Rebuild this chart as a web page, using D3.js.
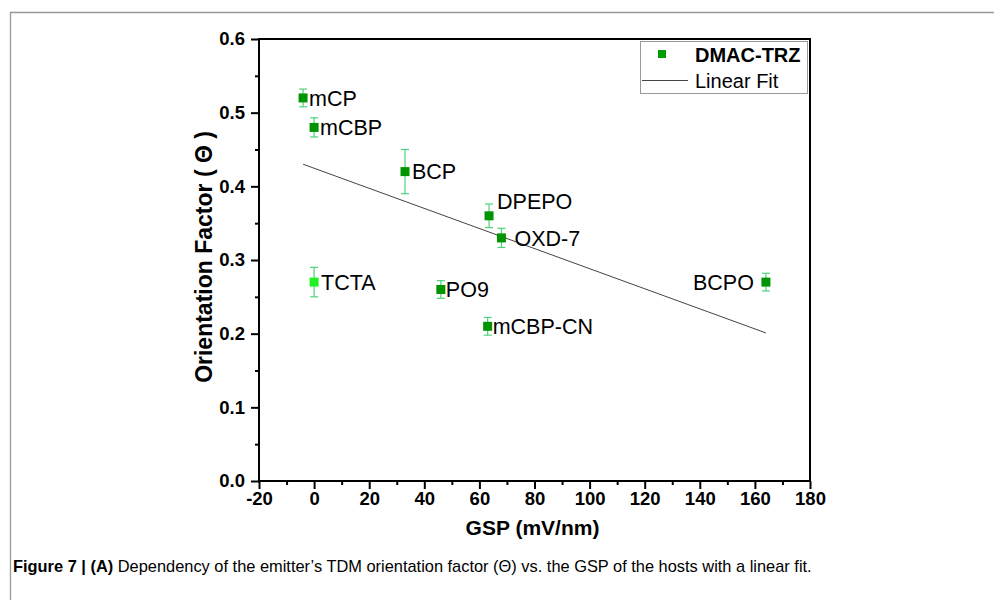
<!doctype html>
<html lang="en">
<head>
<meta charset="UTF-8">
<title>Orientation factor vs GSP</title>
<style>
  body { margin: 0; background: #fff; }
  svg { display: block; font-family: "Liberation Sans", Arial, sans-serif; }
  .tick text { font-family: "Liberation Sans", Arial, sans-serif; font-weight: bold; font-size: 18.5px; fill: #000; }
  .host-label { font-size: 21.5px; fill: #000; }
</style>
</head>
<body>
<svg id="chart" width="994" height="600"></svg>
<script src="https://d3js.org/d3.v7.min.js"></script>
<script>
// data
var hosts    = ["mCP", "mCBP", "BCP", "DPEPO", "OXD-7", "TCTA", "PO9", "mCBP-CN", "BCPO"];
var gsp      = [-4, 0, 33, 63.5, 68, 0, 46, 63, 164];
var theta    = [0.52, 0.48, 0.42, 0.36, 0.33, 0.27, 0.26, 0.21, 0.27];
var thetaErr = [0.012, 0.013, 0.03, 0.016, 0.013, 0.02, 0.012, 0.012, 0.012];
var excluded = ["TCTA"];          // drawn in the lighter green
var fitGsp   = [-4, 164];         // ends of the linear fit line
var fitTheta = [0.43, 0.201];
var xTicks   = [-20, 0, 20, 40, 60, 80, 100, 120, 140, 160, 180];
var yTicks   = [0.0, 0.1, 0.2, 0.3, 0.4, 0.5, 0.6];

// label placement next to each point (layout only)
var labelPos = {
  "mCP":     {dx: 6,   dy: 0,   anchor: "start"},
  "mCBP":    {dx: 6,   dy: 0,   anchor: "start"},
  "BCP":     {dx: 7,   dy: 0,   anchor: "start"},
  "DPEPO":   {dx: 8,   dy: -15, anchor: "start"},
  "OXD-7":   {dx: 13,  dy: 0,   anchor: "start"},
  "TCTA":    {dx: 7,   dy: 0,   anchor: "start"},
  "PO9":     {dx: 5,   dy: 0,   anchor: "start"},
  "mCBP-CN": {dx: 5,   dy: 0,   anchor: "start"},
  "BCPO":    {dx: -12, dy: 0,   anchor: "end"}
};

var svg = d3.select("#chart");

// outer figure frame (top and left edges visible)
svg.append("path")
  .attr("d", "M10.5,600 V12.5 H994")
  .attr("fill", "none")
  .attr("stroke", "#999")
  .attr("stroke-width", 1.3);

var pLeft = 259, pRight = 810, pTop = 39, pBottom = 481;

var x = d3.scaleLinear().domain([-20, 180]).range([pLeft, pRight]);
var y = d3.scaleLinear().domain([0, 0.6]).range([pBottom, pTop]);

// minor ticks
svg.append("g")
  .attr("transform", "translate(0," + pBottom + ")")
  .call(d3.axisBottom(x).tickValues(d3.range(-10, 180, 20)).tickSize(4).tickFormat(""))
  .call(function(g) { g.select(".domain").remove(); });
svg.append("g")
  .attr("transform", "translate(" + pLeft + ",0)")
  .call(d3.axisLeft(y).tickValues(d3.range(0.05, 0.6, 0.1)).tickSize(4).tickFormat(""))
  .call(function(g) { g.select(".domain").remove(); });

// major ticks + labels (plain hyphen for negatives, like the original)
var xAxis = svg.append("g")
  .attr("transform", "translate(0," + pBottom + ")")
  .call(d3.axisBottom(x).tickValues(xTicks).tickSize(8).tickPadding(3)
    .tickFormat(function(d) { return String(d); }));
xAxis.select(".domain").remove();

var yAxis = svg.append("g")
  .attr("transform", "translate(" + pLeft + ",0)")
  .call(d3.axisLeft(y).tickValues(yTicks).tickSize(8).tickPadding(6)
    .tickFormat(function(d) { return d.toFixed(1); }));
yAxis.select(".domain").remove();

svg.selectAll(".tick line").attr("stroke", "#000").attr("stroke-width", 2);

// plot frame
svg.append("rect")
  .attr("x", pLeft).attr("y", pTop)
  .attr("width", pRight - pLeft).attr("height", pBottom - pTop)
  .attr("fill", "none")
  .attr("stroke", "#000")
  .attr("stroke-width", 2);

// axis titles
svg.append("text")
  .attr("x", (pLeft + pRight) / 2 - 2)
  .attr("y", 535)
  .attr("text-anchor", "middle")
  .style("font-weight", "bold")
  .style("font-size", "21px")
  .text("GSP (mV/nm)");

svg.append("text")
  .attr("transform", "translate(212,257) rotate(-90)")
  .attr("text-anchor", "middle")
  .style("font-weight", "bold")
  .style("font-size", "23px")
  .text("Orientation Factor ( Θ )");

// linear fit
svg.append("line")
  .attr("x1", x(fitGsp[0])).attr("y1", y(fitTheta[0]))
  .attr("x2", x(fitGsp[1])).attr("y2", y(fitTheta[1]))
  .attr("stroke", "#444")
  .attr("stroke-width", 1);

var pts = hosts.map(function(h, i) {
  return {name: h, x: gsp[i], y: theta[i], e: thetaErr[i]};
});

// error bars
var eb = svg.append("g").attr("stroke", "#4fd27a").attr("stroke-width", 1.2);
pts.forEach(function(d) {
  var cx = x(d.x), y1 = y(d.y + d.e), y2 = y(d.y - d.e);
  eb.append("line").attr("x1", cx).attr("x2", cx).attr("y1", y1).attr("y2", y2);
  eb.append("line").attr("x1", cx - 4).attr("x2", cx + 4).attr("y1", y1).attr("y2", y1);
  eb.append("line").attr("x1", cx - 4).attr("x2", cx + 4).attr("y1", y2).attr("y2", y2);
});

// squares
svg.selectAll("rect.pt")
  .data(pts)
  .enter()
  .append("rect")
  .attr("class", "pt")
  .attr("x", function(d) { return x(d.x) - 4.5; })
  .attr("y", function(d) { return y(d.y) - 4.5; })
  .attr("width", 9)
  .attr("height", 9)
  .attr("fill", function(d) { return excluded.indexOf(d.name) >= 0 ? "#22f022" : "#009400"; });

// labels
svg.selectAll("text.host-label")
  .data(pts)
  .enter()
  .append("text")
  .attr("class", "host-label")
  .attr("x", function(d) { return x(d.x) + labelPos[d.name].dx; })
  .attr("y", function(d) { return y(d.y) + labelPos[d.name].dy; })
  .attr("dy", "0.36em")
  .attr("text-anchor", function(d) { return labelPos[d.name].anchor; })
  .text(function(d) { return d.name; });

// legend
var lg = svg.append("g");
lg.append("rect")
  .attr("x", 640.5).attr("y", 41.5)
  .attr("width", 167).attr("height", 52)
  .attr("fill", "#fff")
  .attr("stroke", "#999")
  .attr("stroke-width", 1);
lg.append("rect")
  .attr("x", 658).attr("y", 50).attr("width", 8).attr("height", 8)
  .attr("fill", "#009e00");
lg.append("text")
  .attr("x", 695).attr("y", 62)
  .style("font-weight", "bold").style("font-size", "20px")
  .text("DMAC-TRZ");
lg.append("line")
  .attr("x1", 642).attr("x2", 688).attr("y1", 80.5).attr("y2", 80.5)
  .attr("stroke", "#444").attr("stroke-width", 1);
lg.append("text")
  .attr("x", 695).attr("y", 88)
  .style("font-size", "20px")
  .text("Linear Fit");

// caption
var cap = svg.append("text")
  .attr("x", 13).attr("y", 572)
  .style("font-size", "16.4px");
cap.append("tspan").style("font-weight", "bold").text("Figure 7 | (A)");
cap.append("tspan").text(" Dependency of the emitter\u2019s TDM orientation factor (\u0398) vs. the GSP of the hosts with a linear fit.");
</script>
</body>
</html>
